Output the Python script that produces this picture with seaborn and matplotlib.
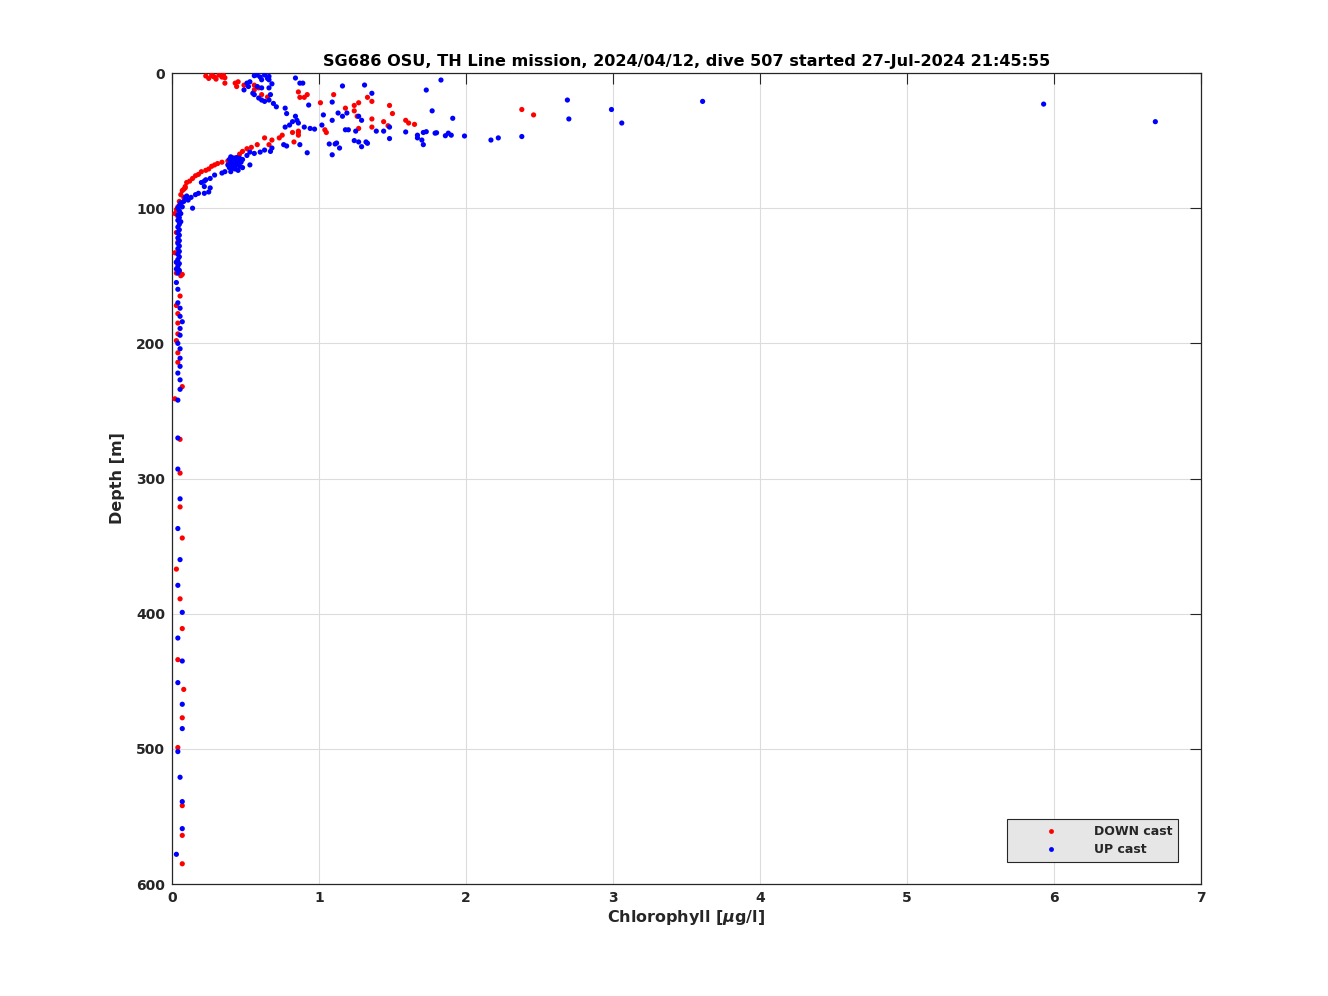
"""Chlorophyll profile for one glider dive, DOWN and UP casts."""
import numpy as np
import pandas as pd
import matplotlib
matplotlib.use("Agg")
import matplotlib.pyplot as plt
import seaborn as sns
from matplotlib.lines import Line2D

TITLE = "SG686 OSU, TH Line mission, 2024/04/12, dive 507 started 27-Jul-2024 21:45:55"
X_LABEL = "Chlorophyll [$\\mu$g/l]"
Y_LABEL = "Depth [m]"
X_TICKS = [0, 1, 2, 3, 4, 5, 6, 7]
Y_TICKS = [0, 100, 200, 300, 400, 500, 600]

# DOWN cast (chlorophyll ug/l, depth m)
down_chl = [
    0.23, 0.27, 0.29, 0.32, 0.35, 0.34, 0.25, 0.30, 0.36, 0.28,
    0.36, 0.44, 0.43, 0.49, 0.56, 0.59, 0.45, 0.56, 0.61, 0.65,
    0.86, 0.87, 0.90, 0.92, 1.01, 1.04, 1.05, 0.82, 0.86, 0.86,
    1.10, 1.18, 1.24, 1.24, 1.26, 1.27, 1.33, 1.36, 1.36, 1.36,
    1.27, 1.44, 1.47, 1.48, 1.50, 1.59, 1.61, 1.65, 2.38, 2.46,
    0.86, 0.83, 0.75, 0.73, 0.68, 0.63, 0.66, 0.58, 0.54, 0.51,
    0.48, 0.46, 0.42, 0.38, 0.34, 0.31, 0.29, 0.27, 0.25, 0.23,
    0.20, 0.18, 0.16, 0.14, 0.12, 0.10, 0.09, 0.08,
    0.09, 0.07, 0.06, 0.08, 0.05, 0.06, 0.04, 0.03, 0.02, 0.04,
    0.05, 0.03, 0.04, 0.02, 0.03, 0.04, 0.05, 0.07, 0.06, 0.03,
    0.055, 0.03, 0.04, 0.04, 0.04, 0.03, 0.04, 0.04, 0.07, 0.02,
    0.055, 0.055, 0.055, 0.07, 0.03, 0.055, 0.07, 0.04, 0.08, 0.07,
    0.04, 0.07, 0.07, 0.07,
]
down_depth = [
    2.2, 1.5, 3.0, 1.5, 1.5, 3.0, 4.0, 4.5, 3.5, 2.5,
    7.5, 10.0, 7.5, 9.0, 9.0, 11.0, 6.5, 12.5, 16.0, 17.8,
    14.0, 18.0, 18.0, 16.0, 22.0, 42.0, 44.0, 44.0, 43.0, 46.0,
    16.0, 26.0, 24.0, 28.0, 32.0, 22.0, 18.0, 21.0, 34.0, 40.0,
    41.0, 36.0, 39.0, 24.0, 30.0, 35.0, 37.0, 38.0, 27.0, 31.0,
    44.0, 51.0, 46.0, 48.0, 49.6, 48.0, 53.0, 53.0, 55.0, 56.0,
    58.0, 60.0, 63.0, 65.0, 66.0, 67.0, 68.0, 69.0, 71.0, 72.0,
    73.0, 75.0, 76.0, 78.0, 80.0, 81.0, 84.0, 86.0,
    85.0, 87.0, 90.0, 92.0, 95.0, 97.0, 99.0, 101.0, 104.0, 106.0,
    110.0, 118.0, 125.0, 133.0, 140.0, 145.0, 147.0, 149.0, 150.0, 148.0,
    165.0, 172.0, 178.0, 185.0, 193.0, 198.0, 207.0, 214.0, 232.0, 241.0,
    271.0, 296.0, 321.0, 344.0, 367.0, 389.0, 411.0, 434.0, 456.0, 477.0,
    499.0, 542.0, 564.0, 585.0,
]

# UP cast (chlorophyll ug/l, depth m)
up_chl = [
    0.58, 0.60, 0.63, 0.61, 0.56, 0.65, 0.66, 0.51, 0.53, 0.49,
    0.52, 0.55, 0.56, 0.58, 0.61, 0.66, 0.67, 0.59, 0.61, 0.63,
    0.66, 0.69, 0.71, 0.77, 0.78, 0.84, 0.85, 0.82, 0.80, 0.77,
    0.86, 0.90, 0.94, 0.97, 1.02, 1.03, 0.84, 0.87, 0.89, 0.93,
    0.66, 0.68,
    1.16, 1.31, 1.36, 1.09, 1.13, 1.16, 1.09, 1.19, 1.27, 1.29,
    1.18, 1.20, 1.25, 1.39, 1.44, 1.48, 1.48, 1.24, 1.27, 1.32,
    1.33, 1.29, 1.14, 1.09, 1.59, 1.67, 1.67, 1.70, 1.71, 1.71,
    1.73, 1.79, 1.80, 1.86, 1.88, 1.90, 1.73, 1.83, 1.77, 1.91,
    1.99, 2.17, 2.22, 1.12, 1.07, 1.11,
    2.69, 2.70, 2.99, 3.06, 3.61, 5.93, 6.69, 2.38,
    0.87, 0.92, 0.78, 0.76, 0.68, 0.67, 0.63, 0.60, 0.56, 0.53,
    0.51, 0.53, 0.48,
    0.40, 0.42, 0.44, 0.46, 0.39, 0.41, 0.43, 0.45, 0.47, 0.40,
    0.42, 0.44, 0.46, 0.39, 0.41, 0.43, 0.45, 0.48, 0.40, 0.42,
    0.38,
    0.36, 0.34, 0.29, 0.26, 0.23, 0.22, 0.20, 0.22, 0.26, 0.25,
    0.22, 0.18, 0.16, 0.13, 0.09, 0.08, 0.07, 0.14, 0.10, 0.11,
    0.06, 0.05, 0.04, 0.05, 0.06, 0.04, 0.05, 0.04, 0.06, 0.05,
    0.04, 0.05, 0.04, 0.05, 0.04, 0.05, 0.04, 0.05, 0.04, 0.05,
    0.04, 0.05, 0.04, 0.03, 0.05, 0.04, 0.03, 0.05, 0.04,
    0.03, 0.04, 0.04, 0.055, 0.055, 0.07, 0.055, 0.055, 0.04, 0.055,
    0.055, 0.055, 0.04, 0.055, 0.055, 0.04, 0.04, 0.04, 0.055, 0.04,
    0.055, 0.04, 0.07, 0.04, 0.07, 0.04, 0.07, 0.07, 0.04, 0.055,
    0.07, 0.07, 0.03,
]
up_depth = [
    1.5, 3.0, 1.5, 5.0, 2.0, 4.0, 2.5, 7.5, 6.5, 12.5,
    10.0, 15.0, 16.0, 10.0, 11.0, 11.0, 16.0, 18.5, 20.0, 21.0,
    20.0, 22.5, 25.0, 26.0, 30.0, 32.0, 35.0, 36.0, 38.5, 40.0,
    37.0, 40.0, 41.0, 41.5, 38.5, 31.0, 3.7, 7.5, 7.5, 23.7,
    5.0, 8.0,
    9.6, 8.9, 15.0, 21.5, 29.6, 32.0, 35.0, 29.6, 32.0, 35.0,
    42.0, 42.0, 43.0, 43.0, 43.0, 40.0, 48.5, 50.0, 51.0, 51.0,
    52.0, 54.5, 55.5, 60.5, 43.6, 46.0, 48.0, 49.6, 53.0, 44.0,
    43.4, 44.5, 44.2, 46.4, 44.5, 46.0, 12.6, 5.2, 28.0, 33.5,
    46.6, 49.6, 48.0, 51.8, 52.5, 52.5,
    20.0, 34.0, 27.0, 37.0, 21.0, 23.0, 36.0, 47.0,
    53.0, 59.0, 54.0, 53.0, 55.5, 58.0, 57.0, 58.5, 59.5, 58.5,
    61.0, 68.0, 64.0,
    62.0, 63.0, 62.5, 63.0, 64.0, 65.0, 65.5, 66.0, 66.0, 67.0,
    68.0, 68.0, 69.0, 70.0, 70.5, 71.0, 72.0, 70.0, 73.0, 66.0,
    68.0,
    73.0, 74.0, 75.5, 78.0, 79.0, 80.0, 81.0, 84.0, 85.0, 88.0,
    89.0, 89.0, 90.0, 92.0, 92.0, 95.0, 99.0, 100.0, 91.0, 94.0,
    96.0, 98.0, 100.0, 102.0, 104.0, 105.0, 107.0, 109.0, 110.0, 112.0,
    114.0, 116.0, 118.0, 120.0, 122.0, 124.0, 126.0, 128.0, 130.0, 132.0,
    134.0, 136.0, 138.0, 140.0, 141.0, 143.0, 145.0, 146.0, 148.0,
    155.0, 160.0, 170.0, 174.0, 180.0, 184.0, 189.0, 194.0, 200.0, 204.0,
    211.0, 217.0, 222.0, 227.0, 234.0, 242.0, 270.0, 293.0, 315.0, 337.0,
    360.0, 379.0, 399.0, 418.0, 435.0, 451.0, 467.0, 485.0, 502.0, 521.0,
    539.0, 559.0, 578.0,
]

COLORS = {"DOWN cast": "#ff0000", "UP cast": "#0000ff"}


def main():
    sns.set_theme(style="white")
    plt.rcParams["font.family"] = ["DejaVu Sans"]
    plt.rcParams["font.weight"] = "bold"

    df = pd.concat([
        pd.DataFrame({"chl": down_chl, "depth": down_depth, "cast": "DOWN cast"}),
        pd.DataFrame({"chl": up_chl, "depth": up_depth, "cast": "UP cast"}),
    ], ignore_index=True)

    fig = plt.figure(figsize=(13.28, 9.96), dpi=100)
    ax = fig.add_axes([0.1295, 0.1124, 0.7748, 0.8143])

    sns.scatterplot(data=df, x="chl", y="depth", hue="cast", palette=COLORS,
                    s=14, linewidth=0, ax=ax, legend=False, zorder=3)

    ax.set_xlim(0, 7)
    ax.set_ylim(600, 0)
    ax.set_xticks(X_TICKS)
    ax.set_yticks(Y_TICKS)
    ax.grid(True, color="#dcdcdc", linewidth=0.8)
    ax.set_axisbelow(True)
    ax.tick_params(direction="in", length=8, width=0.8, top=True, right=True,
                   labelsize=10, colors="#262626", pad=5)
    for lab in ax.get_xticklabels() + ax.get_yticklabels():
        lab.set_fontweight("bold")
    for sp in ax.spines.values():
        sp.set_color("#262626")
        sp.set_linewidth(0.9)

    ax.set_xlabel(X_LABEL, fontsize=11.5, fontweight="bold", color="#262626", labelpad=2)
    ax.set_ylabel(Y_LABEL, fontsize=11.5, fontweight="bold", color="#262626", labelpad=8)
    ax.set_title(TITLE, fontsize=11.6, fontweight="bold", color="black", pad=5)

    handles = [
        Line2D([], [], linestyle="none", marker="o", markersize=3.5,
               markerfacecolor=COLORS[k], markeredgewidth=0, label=k)
        for k in ["DOWN cast", "UP cast"]
    ]
    leg = ax.legend(handles=handles, loc="lower right", bbox_to_anchor=(0.978, 0.027),
                    borderaxespad=0, frameon=True, fancybox=False, framealpha=1,
                    facecolor="#e6e6e6", edgecolor="#262626",
                    handlelength=6.0, handletextpad=0.4, borderpad=0.5,
                    labelspacing=0.4, prop={"weight": "bold", "size": 9})
    leg.get_frame().set_linewidth(0.8)

    fig.savefig("out.png", dpi=100)
    plt.close(fig)


if __name__ == "__main__":
    main()
